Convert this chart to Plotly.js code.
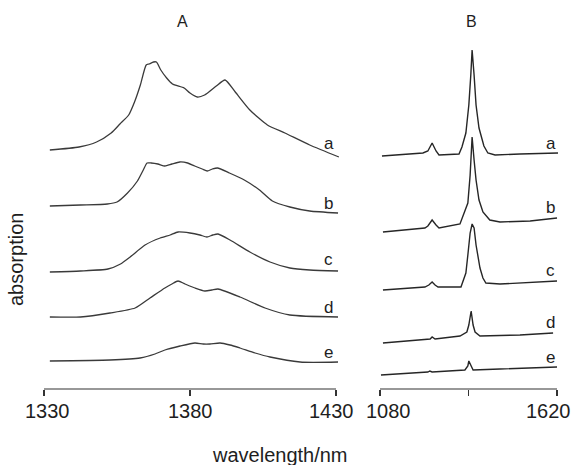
<!DOCTYPE html>
<html>
<head>
<meta charset="utf-8">
<script src="https://cdn.plot.ly/plotly-3.0.1.min.js"></script>
<style>html,body{margin:0;padding:0;background:#fff;}#chart{width:577px;height:465px;}</style>
</head>
<body>
<div id="chart"></div>
<script>
// ---- Panel A (1330-1430 nm), absorption in arbitrary units (stacked, offset) ----
const wlA_a = [1332,1342,1348,1353,1356,1359,1361,1363,1365,1366,1367.5,1368.5,1370,1372,1374,1378,1380,1382.5,1385,1389,1392,1395.5,1400.5,1406.5,1412.5,1421,1431];
const absA_a = [239,242,247,256,265,274,287,304,324,325,327,327,319,311,305,301,296,292,294,303,309,297,279,264,256,244,232];

const wlA_b = [1332,1342.5,1351.7,1355,1358.6,1362,1364,1365.3,1366.7,1369,1371.4,1373.8,1376.5,1379.2,1381.6,1384.2,1385.9,1387.7,1389.4,1393.5,1398.6,1403.8,1408.2,1414.2,1421,1430.7];
const absA_b = [183,184,185,187,196,208,219,226,226,225,223,225,227,226,223,220,218,220,221,216,209,199,188,182,178,176];

const wlA_c = [1332,1342.5,1351.9,1356.2,1359.5,1364.6,1369.8,1373.2,1375.9,1380,1383.4,1385.8,1387.8,1389.6,1393.7,1400.5,1407.4,1414.2,1421,1430.7];
const absA_c = [117,118,120,125,132,144,151,154,157,156,154,152,154,155,149,137,127,121,119,118];

const wlA_d = [1332,1342.5,1352.6,1361.2,1366.3,1371.4,1373.8,1375.9,1378.3,1381.7,1385.1,1387.5,1389.6,1397.1,1405.7,1414.2,1430.7];
const absA_d = [72,72,76,81,91,101,105,108,105,101,98,99,100,92,81,74,72];

const wlA_e = [1332,1352.6,1362.9,1368,1371.4,1376.6,1381.7,1384.5,1386.8,1390.3,1393.7,1397.1,1402.3,1407.4,1417.7,1430.7];
const absA_e = [28,29,31,35,39,43,46,45,45,46,44,41,36,32,27,27];

// ---- Panel B (1080-1620 nm) ----
const wlB_a = [1086,1211,1226,1239,1251,1260,1321,1330,1342,1351,1357,1361,1367,1373,1382,1388,1397,1409,1431,1507,1623];
const absB_a = [233,236,238,246,238,234,235,242,256,284,314,339,314,284,261,253,243,236,234,235,236];

const wlB_b = [1089,1217,1226,1239,1251,1260,1324,1339,1348,1355,1361,1367,1373,1382,1394,1415,1446,1538,1620];
const absB_b = [157,161,163,169,164,161,165,177,186,214,252,229,209,189,177,169,167,168,171];

const wlB_c = [1089,1217,1229,1239,1248,1257,1327,1342,1348,1355,1361,1367,1373,1385,1394,1403,1446,1620];
const absB_c = [99,102,104,107,104,102,102,116,134,156,165,161,144,121,111,106,105,108];

const wlB_d = [1089,1233,1239,1248,1324,1345,1351,1358,1364,1370,1385,1507,1608];
const absB_d = [46,50,52,50,53,57,64,78,64,57,53,54,56];

const wlB_e = [1083,1226,1232,1239,1339,1348,1351,1358,1364,1446,1620];
const absB_e = [14,17,18,17,19,23,28,23,19,20,22];

const curveLabels = ['a','b','c','d','e'];
const ticksA = [1330,1380,1430];
const tickTextA = ['1330','1380','1430'];
const ticksB = [1080,1350,1620];
const tickTextB = ['1080','','1620'];

const FONT = 'Liberation Sans, Arial, Helvetica, sans-serif';
const TXT = '#1e1e1e';
const lineA = {color:'#3a3a3a', width:1.3, shape:'spline', smoothing:0.6};
const lineB = {color:'#262626', width:1.4};

const seriesA = [[wlA_a,absA_a],[wlA_b,absA_b],[wlA_c,absA_c],[wlA_d,absA_d],[wlA_e,absA_e]];
const seriesB = [[wlB_a,absB_a],[wlB_b,absB_b],[wlB_c,absB_c],[wlB_d,absB_d],[wlB_e,absB_e]];

const traces = [];
seriesA.forEach((s,i)=>traces.push({x:s[0],y:s[1],mode:'lines',line:lineA,xaxis:'x',yaxis:'y',name:curveLabels[i],hoverinfo:'x+y'}));
seriesB.forEach((s,i)=>traces.push({x:s[0],y:s[1],mode:'lines',line:lineB,xaxis:'x2',yaxis:'y2',name:curveLabels[i],hoverinfo:'x+y'}));

const yBottom = (465-389)/465;
const yTop = (465-30)/465;
const axisCommon = {
  showgrid:false, zeroline:false, showline:false,
  ticks:'outside', ticklen:6, tickwidth:1.2, tickcolor:'#333',
  showticklabels:false,
  fixedrange:true
};
const yCommon = {range:[0,359], domain:[yBottom,yTop], visible:false, fixedrange:true};

const annotations = [];
function txt(x, y, text, size, extra){
  annotations.push(Object.assign({x:x/577, y:1-y/465, xref:'paper', yref:'paper', text:text,
    showarrow:false, xanchor:'center', yanchor:'middle', font:{family:FONT,size:size,color:TXT}}, extra||{}));
}
// curve labels (data-referenced)
const labA_y = [246,186,130,82,37];
const labB_y = [246,182,119,67,32];
curveLabels.forEach((t,i)=>{
  annotations.push({x:1427.6,y:labA_y[i],xref:'x',yref:'y',text:t,showarrow:false,xanchor:'center',yanchor:'middle',font:{family:FONT,size:17,color:TXT}});
  annotations.push({x:1601,y:labB_y[i],xref:'x2',yref:'y2',text:t,showarrow:false,xanchor:'center',yanchor:'middle',font:{family:FONT,size:17,color:TXT}});
});
// tick labels (placed as text so they can sit like the original)
const tickLabelPx = [47,190,331,388,548];
[...tickTextA, tickTextB[0], tickTextB[2]].forEach((t,i)=>txt(tickLabelPx[i], 411, t, 20));
txt(182, 21, 'A', 16);
txt(471, 21, 'B', 16);
txt(280, 455, 'wavelength/nm', 20);
txt(16, 260, 'absorption', 20, {textangle:-90});

const layout = {
  width:577, height:465,
  margin:{l:0,r:0,t:0,b:0},
  paper_bgcolor:'#ffffff', plot_bgcolor:'#ffffff',
  showlegend:false,
  xaxis:Object.assign({}, axisCommon, {domain:[40/577,343/577], range:[1330-4/2.92, 1330+299/2.92], tickvals:ticksA, ticktext:tickTextA, anchor:'y'}),
  xaxis2:Object.assign({}, axisCommon, {domain:[376/577,561/577], range:[1080-4/0.3278, 1080+181/0.3278], tickvals:ticksB, ticktext:tickTextB, anchor:'y2'}),
  yaxis:Object.assign({}, yCommon, {anchor:'x'}),
  yaxis2:Object.assign({}, yCommon, {anchor:'x2'}),
  shapes:[
    {type:'line',xref:'x',yref:'paper',x0:1330,x1:1430,y0:yBottom,y1:yBottom,line:{color:'#333',width:1.2}},
    {type:'line',xref:'x2',yref:'paper',x0:1080,x1:1620,y0:yBottom,y1:yBottom,line:{color:'#333',width:1.2}}
  ],
  annotations:annotations
};

Plotly.newPlot('chart', traces, layout, {displayModeBar:false, staticPlot:true});
</script>
</body>
</html>
